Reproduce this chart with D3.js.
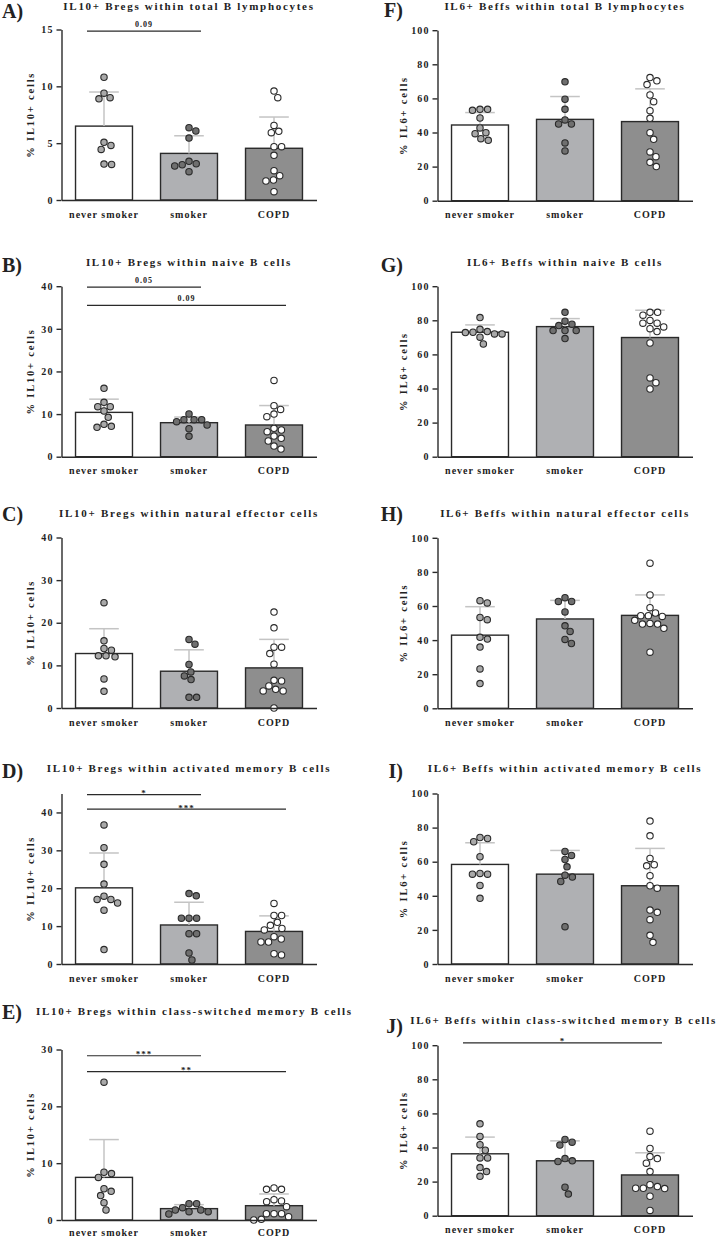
<!DOCTYPE html>
<html><head><meta charset="utf-8">
<script src="https://cdn.jsdelivr.net/npm/d3@7"></script>
<style>
body{margin:0;background:#fff;}
svg{display:block;}
text{font-family:"Liberation Serif","Times New Roman",serif;fill:#222;}
</style></head><body>
<svg id="c" width="720" height="1239"></svg>
<script>
// ---------------- DATA ----------------
const categories = ["never smoker", "smoker", "COPD"];
const panelIds = ["A","B","C","D","E","F","G","H","I","J"];
const titles = [
  "IL10+ Bregs within total B lymphocytes",
  "IL10+ Bregs within naive B cells",
  "IL10+ Bregs within natural effector cells",
  "IL10+ Bregs within activated memory B cells",
  "IL10+ Bregs within class-switched memory B cells",
  "IL6+ Beffs within total B lymphocytes",
  "IL6+ Beffs within naive B cells",
  "IL6+ Beffs within natural effector cells",
  "IL6+ Beffs within activated memory B cells",
  "IL6+ Beffs within class-switched memory B cells"
];
const yLabels = ["% IL10+ cells","% IL10+ cells","% IL10+ cells","% IL10+ cells","% IL10+ cells",
                 "% IL6+ cells","% IL6+ cells","% IL6+ cells","% IL6+ cells","% IL6+ cells"];
const yMaxes = [15, 40, 40, 45, 30, 100, 100, 100, 100, 100];
const yTicks = [
  [0,5,10,15], [0,10,20,30,40], [0,10,20,30,40], [0,10,20,30,40], [0,10,20,30],
  [0,20,40,60,80,100], [0,20,40,60,80,100], [0,20,40,60,80,100], [0,20,40,60,80,100], [0,20,40,60,80,100]
];

// Panel A
const A_means = [6.5, 4.1, 4.55];
const A_errs  = [9.5, 5.65, 7.3];
const A_never = [10.8, 9.4, 8.9, 9.0, 4.8, 4.45, 5.07, 3.13, 3.16];
const A_smoker = [6.36, 6.07, 5.45, 3.4, 3.19, 3.1, 2.99, 2.49];
const A_copd = [9.0, 9.58, 6.04, 5.92, 6.56, 4.69, 4.69, 3.93, 2.58, 2.14, 1.76, 1.67, 0.73];
const A_sig = [{from:0, to:1, label:"0.09", y:14.85}];
// Panel B
const B_means = [10.4, 7.98, 7.44];
const B_errs  = [13.5, 9.3, 12.0];
const B_never = [16.05, 12.76, 11.74, 11.74, 10.72, 9.24, 7.59, 6.89, 7.12];
const B_smoker = [10.02, 8.69, 8.22, 8.69, 8.69, 7.44, 6.58, 4.77];
const B_copd = [17.9, 11.98, 11.1, 10.0, 9.39, 6.65, 6.26, 5.87, 4.85, 4.3, 3.68, 2.5, 1.8];
const B_sig = [{from:0, to:1, label:"0.05", y:39.8}, {from:0, to:2, label:"0.09", y:35.5}];
// Panel C
const C_means = [12.78, 8.63, 9.41];
const C_errs  = [18.6, 13.65, 16.1];
const C_never = [24.7, 15.76, 13.96, 13.57, 12.24, 12.0, 12.24, 6.82, 3.92];
const C_smoker = [16.08, 14.98, 10.2, 7.53, 6.67, 8.47, 2.51, 2.51];
const C_copd = [22.5, 18.8, 14.27, 14.27, 12.78, 10.27, 6.35, 6.5, 5.18, 4.0, 4.0, 4.39, 0];
const C_sig = [];
// Panel D
const D_means = [20.1, 10.3, 8.6];
const D_errs  = [29.3, 16.3, 12.7];
const D_never = [36.7, 30.7, 26.3, 21.1, 17.9, 16.1, 17.05, 17.05, 14.2, 3.8];
const D_smoker = [18.6, 18.0, 12.1, 12.1, 12.1, 8.0, 8.0, 2.9, 1.05];
const D_copd = [16.0, 12.8, 12.8, 10.2, 9.0, 9.4, 11.0, 7.2, 5.8, 5.8, 6.6, 2.4, 2.7];
const D_sig = [{from:0, to:1, label:"*", y:44.7}, {from:0, to:2, label:"***", y:40.9}];
// Panel E
const E_means = [7.5, 2.0, 2.52];
const E_errs  = [14.15, 2.7, 4.58];
const E_never = [24.25, 8.4, 8.16, 7.5, 5.05, 5.5, 4.3, 3.05, 1.76];
const E_smoker = [2.88, 2.88, 1.76, 1.47, 1.06, 1.47, 1.76, 2.17];
const E_copd = [5.64, 5.4, 5.4, 3.58, 3.23, 3.35, 2.35, 1.12, 0.59, 0.0, 0.12, 1.12, 1.12];
const E_sig = [{from:0, to:1, label:"***", y:28.9}, {from:0, to:2, label:"**", y:26.1}];
// Panel F
const F_means = [44.4, 47.7, 46.4];
const F_errs  = [51.7, 61.1, 65.6];
const F_never = [53.6, 53.0, 53.6, 48.5, 42.7, 39.3, 39.9, 35.4, 36.4];
const F_smoker = [69.7, 59.5, 53.6, 47.4, 45.0, 45.0, 33.9, 29.2];
const F_copd = [72.2, 68.1, 70.3, 62.0, 58.1, 52.8, 48.3, 39.9, 36.0, 28.6, 25.8, 22.5, 20.0];
const F_sig = [];
// Panel G
const G_means = [73.0, 76.3, 69.9];
const G_errs  = [77.3, 81.0, 85.9];
const G_never = [81.6, 74.7, 73.0, 72.0, 72.0, 72.8, 73.4, 70.1, 66.1];
const G_smoker = [84.7, 79.5, 76.9, 77.7, 74.0, 74.0, 74.0, 69.3];
const G_copd = [84.7, 84.7, 83.0, 79.9, 78.3, 78.3, 76.1, 75.1, 73.4, 66.7, 46.2, 43.4, 39.7];
const G_sig = [];
// Panel H
const H_means = [42.9, 52.4, 54.5];
const H_errs  = [59.6, 63.3, 66.5];
const H_never = [63.1, 61.8, 52.0, 53.3, 41.6, 40.6, 35.9, 23.1, 14.5];
const H_smoker = [62.7, 62.7, 64.9, 56.5, 48.4, 45.1, 38.0, 40.4];
const H_copd = [85.1, 66.5, 59.0, 55.9, 54.3, 51.6, 53.9, 54.3, 49.8, 49.4, 49.4, 46.9, 32.9];
const H_sig = [];
// Panel I
const I_means = [58.4, 52.7, 45.9];
const I_errs  = [71.1, 66.6, 67.8];
const I_never = [74.2, 71.7, 73.6, 62.9, 53.1, 52.7, 52.7, 46.1, 38.5];
const I_smoker = [66.0, 63.7, 61.3, 57.0, 52.1, 51.0, 48.4, 21.9];
const I_copd = [83.8, 75.2, 58.2, 57.6, 61.9, 51.8, 45.9, 44.5, 30.3, 31.6, 26.0, 16.8, 12.7];
const I_sig = [];
// Panel J
const J_means = [36.3, 32.2, 23.9];
const J_errs  = [46.1, 43.9, 36.9];
const J_never = [53.9, 46.5, 41.6, 38.4, 33.9, 33.9, 28.2, 25.9, 23.1];
const J_smoker = [44.7, 41.4, 43.1, 32.2, 31.8, 33.5, 16.7, 12.7];
const J_copd = [49.6, 39.4, 34.7, 33.5, 30.8, 25.9, 17.1, 16.1, 15.9, 16.1, 18.2, 11.4, 3.1];
const J_sig = [{from:0, to:2, label:"*", y:101.4}];

// ---------------- LAYOUT / STYLE ----------------
const panelData = {
  A:{means:A_means, errs:A_errs, pts:[A_never,A_smoker,A_copd], sig:A_sig},
  B:{means:B_means, errs:B_errs, pts:[B_never,B_smoker,B_copd], sig:B_sig},
  C:{means:C_means, errs:C_errs, pts:[C_never,C_smoker,C_copd], sig:C_sig},
  D:{means:D_means, errs:D_errs, pts:[D_never,D_smoker,D_copd], sig:D_sig},
  E:{means:E_means, errs:E_errs, pts:[E_never,E_smoker,E_copd], sig:E_sig},
  F:{means:F_means, errs:F_errs, pts:[F_never,F_smoker,F_copd], sig:F_sig},
  G:{means:G_means, errs:G_errs, pts:[G_never,G_smoker,G_copd], sig:G_sig},
  H:{means:H_means, errs:H_errs, pts:[H_never,H_smoker,H_copd], sig:H_sig},
  I:{means:I_means, errs:I_errs, pts:[I_never,I_smoker,I_copd], sig:I_sig},
  J:{means:J_means, errs:J_errs, pts:[J_never,J_smoker,J_copd], sig:J_sig}
};
const layout = {
  A:{col:0, y0:200,   titleY:10,   labelY:18,   xlab:17.5},
  B:{col:0, y0:456.7, titleY:266,  labelY:272,  xlab:17.5},
  C:{col:0, y0:708,   titleY:517,  labelY:521,  xlab:17.5},
  D:{col:0, y0:964,   titleY:772,  labelY:778,  xlab:17.5},
  E:{col:0, y0:1220,  titleY:1015, labelY:1019, xlab:16},
  F:{col:1, y0:200.7, titleY:10,   labelY:17,   xlab:17.5},
  G:{col:1, y0:456.7, titleY:266,  labelY:272,  xlab:17.5},
  H:{col:1, y0:708.3, titleY:517,  labelY:521,  xlab:17.5},
  I:{col:1, y0:964,   titleY:772,  labelY:778,  xlab:17.5},
  J:{col:1, y0:1215.7,titleY:1024, labelY:1033, xlab:17}
};
const cols = [
  {axis:61.5, end:316.5, ylab:30,  labelX:2,   anchor:"start"},
  {axis:437.5, end:692.5, ylab:403, labelX:403, anchor:"end"}
];
const plotH = 170.5;
const barFill = ["#ffffff", "#afb0b3", "#8e8e8e"];
const dotFill = ["#a9a9a9", "#6f6f6f", "#ffffff"];
const ink = "#2a2a2a";
const errColor = "#c4c4c4";
const R = 3.2, minD = 7.6;
const pageRight = 717;

const svg = d3.select("#c");

function swarm(vals, y){
  const order = vals.map((v,i)=>i).sort((a,b)=>vals[b]-vals[a]);
  const placed = [], out = [];
  for (const i of order){
    const py = y(vals[i]);
    const forb = [];
    for (const p of placed){
      const dy = py - p.y;
      if (Math.abs(dy) < minD){
        const dx = Math.sqrt(minD*minD - dy*dy);
        forb.push([p.x - dx, p.x + dx]);
      }
    }
    const cands = [0];
    forb.forEach(f=>cands.push(f[0], f[1]));
    cands.sort((a,b)=>Math.abs(a)-Math.abs(b) || b-a);
    let x = 0;
    for (const c of cands){
      if (forb.every(f => c <= f[0]+1e-6 || c >= f[1]-1e-6)){ x = c; break; }
    }
    placed.push({x, y:py});
    out[i] = {x, y:py, v:vals[i]};
  }
  return out;
}

panelIds.forEach((id, pi) => {
  const L = layout[id], C = cols[L.col], D = panelData[id];
  const g = svg.append("g");
  const x = d3.scaleBand().domain(categories).range([C.axis, C.end]).paddingInner(0.33).paddingOuter(0.165);
  const y = d3.scaleLinear().domain([0, yMaxes[pi]]).range([L.y0, L.y0 - plotH]);
  const bw = x.bandwidth();
  const cx = c => x(c) + bw/2;

  // bars
  g.selectAll("rect.bar").data(categories).join("rect")
    .attr("x", c => x(c)).attr("width", bw)
    .attr("y", (c,i) => y(D.means[i])).attr("height", (c,i) => L.y0 - y(D.means[i]))
    .attr("fill", (c,i) => barFill[i]).attr("stroke", ink).attr("stroke-width", 1.4);

  // error bars (upper only)
  categories.forEach((c,i) => {
    g.append("line").attr("x1", cx(c)).attr("x2", cx(c))
      .attr("y1", y(D.means[i])).attr("y2", y(D.errs[i]))
      .attr("stroke", errColor).attr("stroke-width", 1.5);
    g.append("line").attr("x1", cx(c) - bw*0.26).attr("x2", cx(c) + bw*0.26)
      .attr("y1", y(D.errs[i])).attr("y2", y(D.errs[i]))
      .attr("stroke", errColor).attr("stroke-width", 1.5);
  });

  // dots
  categories.forEach((c,i) => {
    const pos = swarm(D.pts[i], y);
    g.selectAll(null).data(pos).join("circle")
      .attr("cx", p => cx(c) + p.x).attr("cy", p => p.y).attr("r", R)
      .attr("fill", dotFill[i]).attr("stroke", ink).attr("stroke-width", 1.1);
  });

  // axes
  const ya = d3.axisLeft(y).tickValues(yTicks[pi]).tickSize(5).tickSizeOuter(0).tickPadding(3).tickFormat(d3.format("d"));
  const yg = g.append("g").attr("transform", `translate(${C.axis},0)`).call(ya);
  yg.select(".domain").attr("stroke", ink).attr("stroke-width", 1.4);
  yg.selectAll(".tick line").attr("stroke", ink).attr("stroke-width", 1.4);
  yg.selectAll(".tick text").attr("font-size", 10).attr("font-weight", "bold")
    .style("letter-spacing", "1.1px").attr("fill", ink).attr("font-family", null);

  const xa = d3.axisBottom(x).tickSize(0).tickSizeOuter(0).tickPadding(0);
  const xg = g.append("g").attr("transform", `translate(0,${L.y0})`).call(xa);
  xg.select(".domain").attr("stroke", ink).attr("stroke-width", 1.4);
  xg.selectAll(".tick text").attr("font-size", 10).attr("font-weight", "bold")
    .attr("y", L.xlab).attr("dy", null)
    .style("letter-spacing", "1px").attr("fill", ink).attr("font-family", null);

  // y label
  g.append("text").attr("transform", `translate(${C.ylab},${L.y0 - plotH/2}) rotate(-90)`)
    .attr("text-anchor", "middle").attr("dy", "0.35em").attr("fill", ink)
    .attr("font-size", 10.5).attr("font-weight", "bold").style("letter-spacing", "1.8px")
    .text(yLabels[pi]);

  // panel letter
  const lab = g.append("text").attr("x", C.labelX).attr("y", L.labelY)
    .attr("text-anchor", C.anchor).attr("font-size", 20).attr("font-weight", "bold")
    .attr("fill", "#111").text(id + ")");
  const labBox = lab.node().getBBox();

  // title: centred on the plot, nudged to clear the panel letter and the page edge
  let ls = 1.7;
  const t = g.append("text").attr("y", L.titleY).attr("text-anchor", "start").attr("fill", ink)
    .attr("font-size", 11).attr("font-weight", "bold").style("letter-spacing", ls + "px")
    .text(titles[pi]);
  let tw = t.node().getComputedTextLength();
  const minStart = labBox.x + labBox.width + (L.col === 0 ? 14 : 6);
  const nChars = titles[pi].length;
  if (tw > pageRight - minStart) {
    ls = ls - (tw - (pageRight - minStart)) / nChars;
    t.style("letter-spacing", ls + "px");
    tw = t.node().getComputedTextLength();
  }
  let start = cx("smoker") - tw/2;
  if (start < minStart) start = minStart;
  if (start + tw > pageRight) start = pageRight - tw;
  t.attr("x", start);

  // significance brackets
  D.sig.forEach(s => {
    const x1 = cx(categories[s.from]) - 17, x2 = cx(categories[s.to]) + 12;
    const ly = y(s.y);
    g.append("line").attr("x1", x1).attr("x2", x2).attr("y1", ly).attr("y2", ly)
      .attr("stroke", ink).attr("stroke-width", 1.2);
    const star = s.label.includes("*");
    g.append("text").attr("x", (x1 + x2)/2).attr("y", star ? ly + 1.5 : ly - 4)
      .attr("text-anchor", "middle").attr("font-size", star ? 9 : 8).attr("font-weight", "bold")
      .attr("fill", ink).style("letter-spacing", "1px").text(s.label);
  });
});
</script>
</body></html>
